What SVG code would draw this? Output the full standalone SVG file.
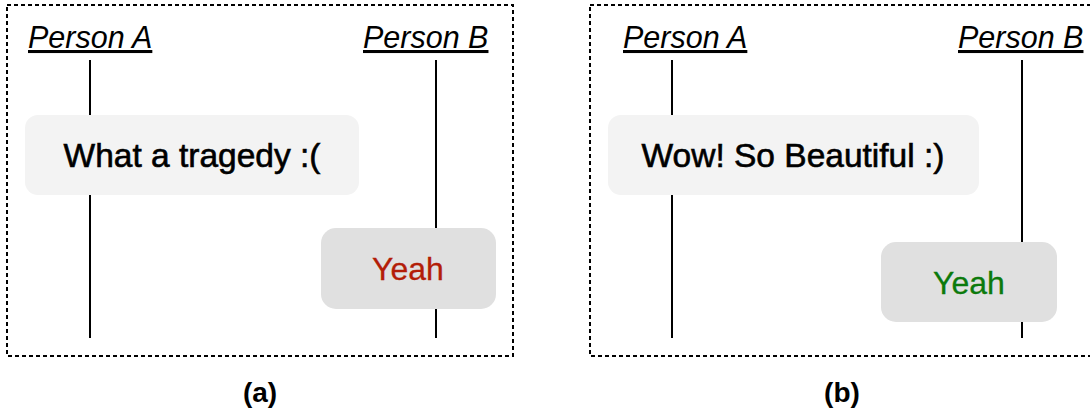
<svg xmlns="http://www.w3.org/2000/svg" width="1090" height="416" viewBox="0 0 1090 416">
<style>
.frame{fill:none;stroke:#000;stroke-width:2;stroke-dasharray:4 3}
.life{stroke:#000;stroke-width:2}
.who{font-family:"Liberation Sans",Arial,sans-serif;font-style:italic;font-size:30.5px;fill:#000;text-decoration:underline}
.msgA{fill:#f3f3f3}
.msgB{fill:#e0e0e0}
.big{font-family:"Liberation Sans",Arial,sans-serif;font-size:33.5px;fill:#000;stroke:#000;stroke-width:0.6;text-anchor:middle}
.yeah{font-family:"Liberation Sans",Arial,sans-serif;font-size:32px;stroke-width:0.3;text-anchor:middle}
.cap{font-family:"Liberation Sans",Arial,sans-serif;font-weight:bold;font-size:28px;fill:#000;text-anchor:middle}
</style>
<rect width="1090" height="416" fill="#fff"/>
<g id="frames">
<rect class="frame" x="7" y="5" width="506" height="351"/>
<rect class="frame" x="590" y="5" width="520" height="351"/>
</g>
<g id="connectors">
<line class="life" x1="90" y1="60" x2="90" y2="338"/>
<line class="life" x1="436" y1="60" x2="436" y2="338"/>
<line class="life" x1="672" y1="60" x2="672" y2="338"/>
<line class="life" x1="1022" y1="60" x2="1022" y2="338"/>
</g>
<g id="a-personA"><text class="who" x="28" y="48">Person A</text></g>
<g id="a-personB"><text class="who" x="363" y="48">Person B</text></g>
<g id="a-msg1">
<rect class="msgA" x="25" y="115" width="334" height="80" rx="13"/>
<text class="big" x="192" y="167">What a tragedy :(</text>
</g>
<g id="a-msg2">
<rect class="msgB" x="321" y="228" width="175" height="81" rx="15"/>
<text class="yeah" x="408" y="280" fill="#b31d08" stroke="#b31d08">Yeah</text>
</g>
<g id="b-personA"><text class="who" x="623" y="48">Person A</text></g>
<g id="b-personB"><text class="who" x="958" y="48">Person B</text></g>
<g id="b-msg1">
<rect class="msgA" x="608" y="115" width="371" height="80" rx="13"/>
<text class="big" x="793" y="167">Wow! So Beautiful :)</text>
</g>
<g id="b-msg2">
<rect class="msgB" x="881" y="242" width="176" height="80" rx="15"/>
<text class="yeah" x="969" y="294" fill="#0c7a0c" stroke="#0c7a0c">Yeah</text>
</g>
<g id="captions">
<text class="cap" x="260" y="402">(a)</text>
<text class="cap" x="842" y="402">(b)</text>
</g>
</svg>
